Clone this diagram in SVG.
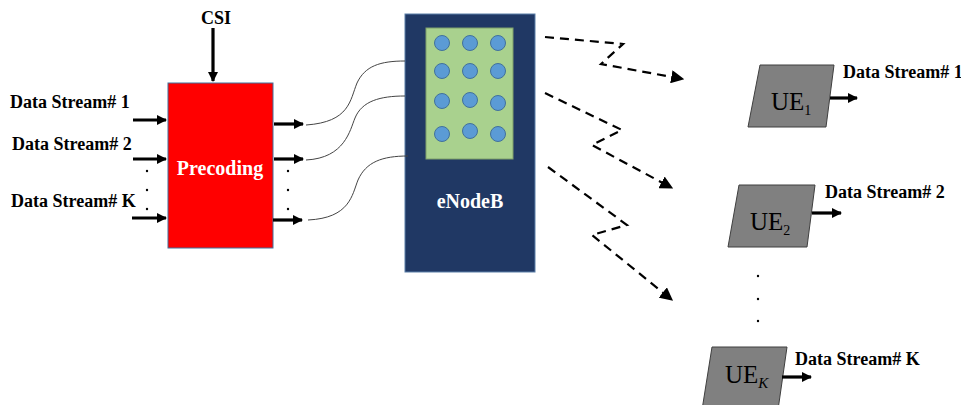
<svg xmlns="http://www.w3.org/2000/svg" width="961" height="405" viewBox="0 0 961 405">
<defs>
<style>
.lbl{font-family:"Liberation Serif","Times New Roman",serif;font-weight:bold;font-size:18px;fill:#000}
.thick{stroke:#000;stroke-width:3.2;fill:none}
.wire{stroke:#444;stroke-width:1;fill:none}
.dash{stroke:#000;stroke-width:2.2;fill:none;stroke-dasharray:9 6}
.ant{fill:#5B9BD5;stroke:#41719C;stroke-width:1}
.ue{fill:#808080;stroke:#3F3F3F;stroke-width:1}
.uet{font-family:"Liberation Serif","Times New Roman",serif;font-size:25px;fill:#000}
.dot{fill:#000}
</style>
<marker id="ah" viewBox="0 0 10 10" refX="9" refY="5" markerWidth="3.2" markerHeight="3.2" orient="auto" markerUnits="strokeWidth">
<path d="M0,0 L10,5 L0,10 z" fill="#000"/>
</marker>
<marker id="dh" viewBox="0 0 10 10" refX="9" refY="5" markerWidth="6" markerHeight="6" orient="auto" markerUnits="strokeWidth">
<path d="M0,0 L10,5 L0,10 z" fill="#000"/>
</marker>
</defs>
<rect width="961" height="405" fill="#fff"/>

<g id="csi">
<text class="lbl" x="216" y="24" text-anchor="middle">CSI</text>
</g>

<g id="precoding">
<rect x="168" y="83" width="105" height="165" fill="#FF0000" stroke="#41719C" stroke-width="1"/>
<text x="220" y="175" text-anchor="middle" font-family="Liberation Serif, Times New Roman, serif" font-weight="bold" font-size="20" fill="#fff">Precoding</text>
</g>

<g id="inputs">
<text class="lbl" x="10" y="108">Data Stream# 1</text>
<text class="lbl" x="12" y="150">Data Stream# 2</text>
<text class="lbl" x="11" y="207">Data Stream# K</text>
<circle class="dot" cx="147" cy="171" r="1.2"/>
<circle class="dot" cx="147" cy="190" r="1.2"/>
<circle class="dot" cx="147" cy="209" r="1.2"/>
<circle class="dot" cx="288" cy="171" r="1.2"/>
<circle class="dot" cx="288" cy="190" r="1.2"/>
<circle class="dot" cx="288" cy="209" r="1.2"/>
</g>

<g id="enodeb">
<rect x="405" y="14" width="130" height="258" fill="#203864" stroke="#5A7FA8" stroke-width="1"/>
<rect x="426" y="28" width="87" height="131" fill="#A9D18E" stroke="#7F9F6A" stroke-width="1"/>
<circle class="ant" cx="442" cy="43" r="7.5"/>
<circle class="ant" cx="470" cy="43" r="7.5"/>
<circle class="ant" cx="498" cy="43" r="7.5"/>
<circle class="ant" cx="442" cy="71" r="7.5"/>
<circle class="ant" cx="470" cy="71" r="7.5"/>
<circle class="ant" cx="498" cy="71" r="7.5"/>
<circle class="ant" cx="442" cy="101" r="7.5"/>
<circle class="ant" cx="470" cy="100" r="7.5"/>
<circle class="ant" cx="498" cy="103" r="7.5"/>
<circle class="ant" cx="442" cy="134" r="7.5"/>
<circle class="ant" cx="470" cy="131" r="7.5"/>
<circle class="ant" cx="498" cy="134" r="7.5"/>
<text x="470" y="208" text-anchor="middle" font-family="Liberation Serif, Times New Roman, serif" font-weight="bold" font-size="20" fill="#fff">eNodeB</text>
</g>

<g id="ue1">
<polygon class="ue" points="760,65 834,65 826,127 748,127"/>
<text class="uet" x="771" y="110">UE<tspan font-size="14" dy="5">1</tspan></text>
<text class="lbl" x="843" y="78">Data Stream# 1</text>
</g>
<g id="ue2">
<polygon class="ue" points="739,185 815,185 807,247 728,247"/>
<text class="uet" x="750" y="230">UE<tspan font-size="14" dy="5">2</tspan></text>
<text class="lbl" x="825" y="198">Data Stream# 2</text>
</g>
<g id="ueK">
<polygon class="ue" points="712,347 787,347 778,410 702,410"/>
<text class="uet" x="725" y="383">UE<tspan font-size="15" font-style="italic" dy="5">K</tspan></text>
<text class="lbl" x="795" y="365">Data Stream# K</text>
<circle class="dot" cx="758" cy="276" r="1.2"/>
<circle class="dot" cx="758" cy="299" r="1.2"/>
<circle class="dot" cx="758" cy="321" r="1.2"/>
</g>

<g id="connectors">
<line class="thick" x1="213" y1="28" x2="213" y2="81" marker-end="url(#ah)"/>
<line class="thick" x1="133" y1="120" x2="166" y2="120" marker-end="url(#ah)"/>
<line class="thick" x1="133" y1="159" x2="166" y2="159" marker-end="url(#ah)"/>
<line class="thick" x1="132" y1="218" x2="166" y2="218" marker-end="url(#ah)"/>
<line class="thick" x1="274" y1="124" x2="303" y2="124" marker-end="url(#ah)"/>
<line class="thick" x1="274" y1="159" x2="303" y2="159" marker-end="url(#ah)"/>
<line class="thick" x1="273" y1="220" x2="302" y2="220" marker-end="url(#ah)"/>
<path class="wire" d="M306,125 C350,122 350,100 357,83 C365,66 380,61 405,61"/>
<path class="wire" d="M306,160 C345,158 350,130 355,118 C362,101 380,96 405,96"/>
<path class="wire" d="M308,220 C350,218 352,195 358,180 C366,162 382,156 408,156"/>
<path class="dash" d="M545,37 L623,44 L601,64 L683,79" marker-end="url(#dh)"/>
<path class="dash" d="M545,93 L622,130 L592,145 L672,188" marker-end="url(#dh)"/>
<path class="dash" d="M548,167 L627,225 L592,235 L672,300" marker-end="url(#dh)"/>
<line class="thick" x1="830" y1="98" x2="857" y2="98" marker-end="url(#ah)"/>
<line class="thick" x1="812" y1="213" x2="841" y2="213" marker-end="url(#ah)"/>
<line class="thick" x1="782" y1="377" x2="811" y2="377" marker-end="url(#ah)"/>
</g>
</svg>
